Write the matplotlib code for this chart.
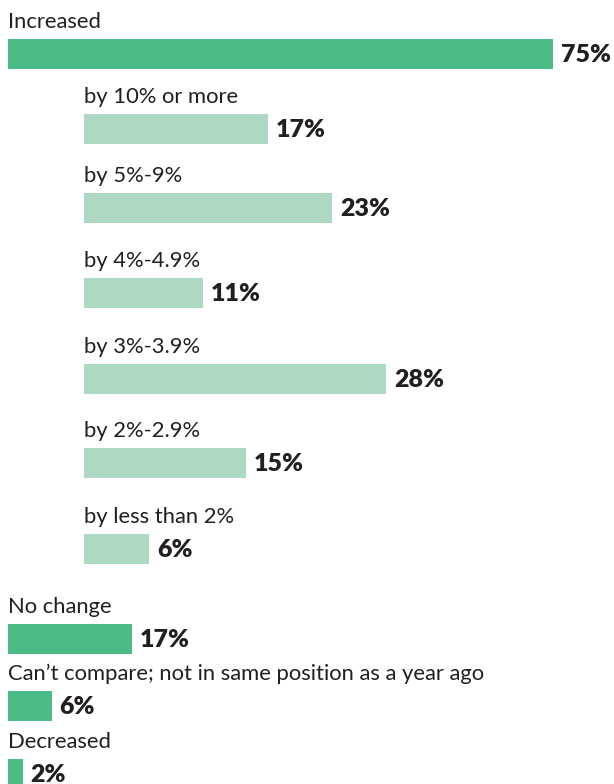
import matplotlib.pyplot as plt

main_labels = ["Increased", "No change", "Can\u2019t compare; not in same position as a year ago", "Decreased"]
main_values = [75, 17, 6, 2]
sub_labels = ["by 10% or more", "by 5%-9%", "by 4%-4.9%", "by 3%-3.9%", "by 2%-2.9%", "by less than 2%"]
sub_values = [17, 23, 11, 28, 15, 6]

main_color = "#4bbc86"
sub_color = "#add9c3"
text_color = "#231f20"

# layout in pixel units
W, H = 614, 784
main_top = [39, 624, 691, 759]
sub_top = [114, 193, 278, 364, 448, 534]
bar_h = 30
main_left, main_scale = 8, 7.27
sub_left, sub_scale = 84, 10.8

fig = plt.figure(figsize=(W / 100, H / 100), dpi=100)
ax = fig.add_axes([0, 0, 1, 1])
ax.set_xlim(0, W)
ax.set_ylim(H, 0)
ax.axis("off")

lab_font = dict(family=["Lato", "DejaVu Sans"], fontsize=15.8, color=text_color)
val_font = dict(family=["Lato", "DejaVu Sans"], fontsize=18, fontweight="heavy", color=text_color)


def draw(labels, values, tops, left, scale, color):
    for lab, v, t in zip(labels, values, tops):
        w = v * scale
        ax.barh(t + bar_h / 2, w, height=bar_h, left=left, color=color)
        ax.text(left, t - 11, lab, va="baseline", ha="left", **lab_font)
        ax.text(left + w + 8, t + bar_h / 2 + 1, f"{v}%", va="center", ha="left", **val_font)


draw(main_labels, main_values, main_top, main_left, main_scale, main_color)
draw(sub_labels, sub_values, sub_top, sub_left, sub_scale, sub_color)

fig.savefig("out.png", dpi=100)
